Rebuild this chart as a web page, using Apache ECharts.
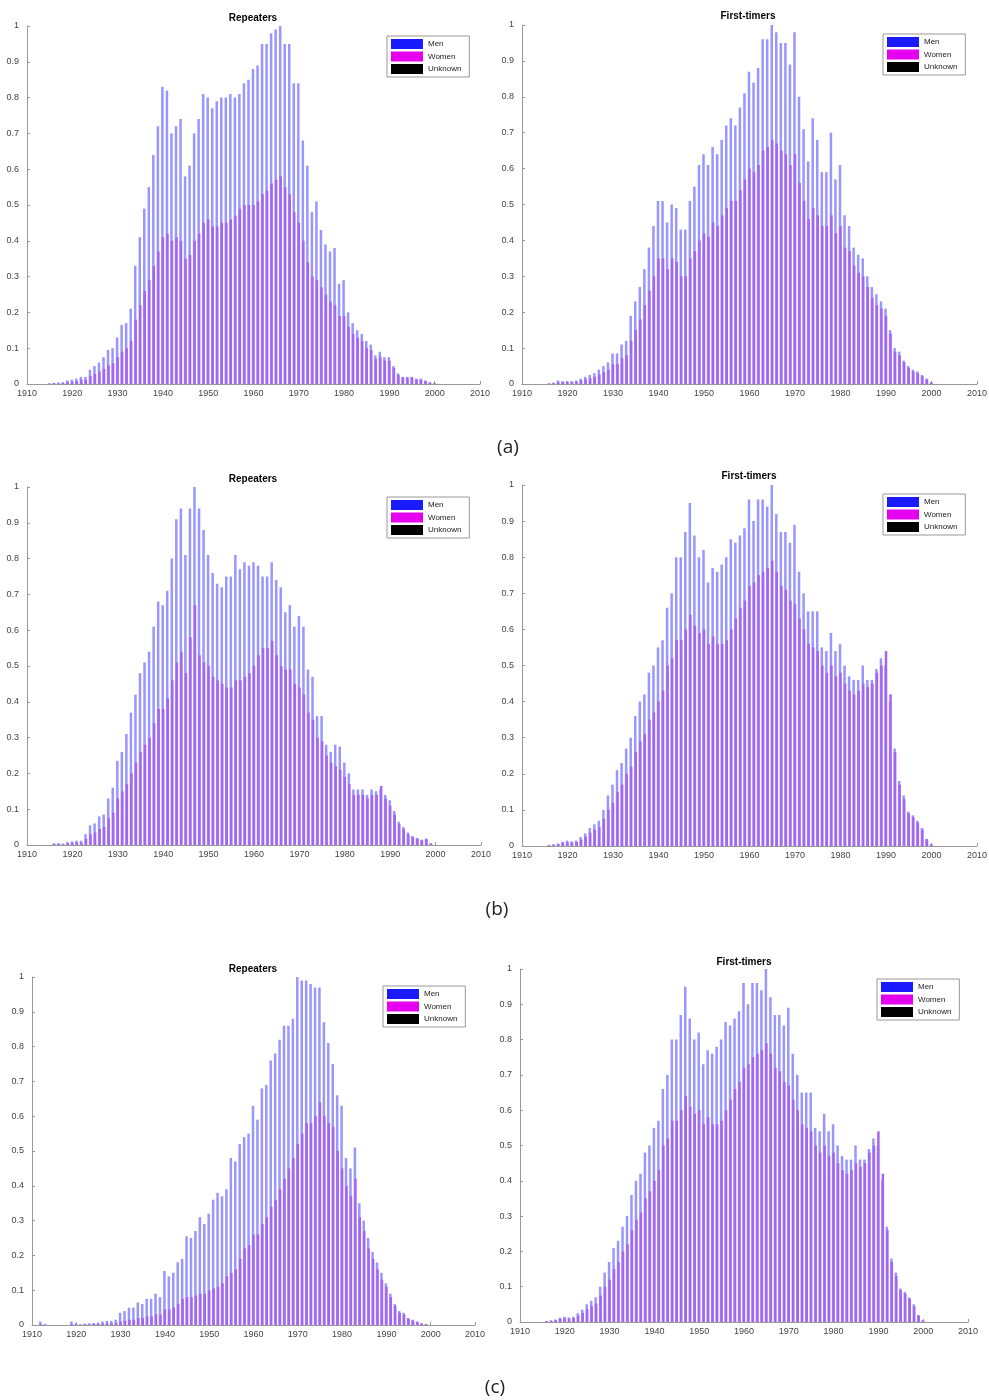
<!DOCTYPE html>
<html><head><meta charset="utf-8">
<script src="https://cdn.jsdelivr.net/npm/echarts@6/dist/echarts.min.js"></script>
<style>html,body{margin:0;padding:0;background:#fff}#c{width:989px;height:1400px}</style>
</head><body><div id="c"></div>
<script>
// Birth years 1910..2000 (one bar group per year)
const years = [];
for (let y = 1910; y <= 2000; y++) years.push(y);
const xTicks = [1910, 1920, 1930, 1940, 1950, 1960, 1970, 1980, 1990, 2000, 2010];
const yTicks = [0, 0.1, 0.2, 0.3, 0.4, 0.5, 0.6, 0.7, 0.8, 0.9, 1];
const legendNames = ['Men', 'Women', 'Unknown'];
const captions = ['(a)', '(b)', '(c)'];

// (a) Repeaters
const menRepA = [0,0,0,0,0,0.002,0.003,0.004,0.005,0.01,
 0.012,0.015,0.02,0.02,0.04,0.05,0.06,0.075,0.095,0.10,
 0.13,0.165,0.17,0.21,0.33,0.41,0.49,0.55,0.64,0.72,
 0.83,0.82,0.70,0.72,0.74,0.58,0.61,0.70,0.74,0.81,
 0.80,0.77,0.79,0.80,0.80,0.81,0.80,0.81,0.84,0.85,
 0.88,0.89,0.95,0.95,0.98,0.99,1.0,0.95,0.95,0.84,
 0.84,0.68,0.61,0.48,0.51,0.43,0.39,0.37,0.38,0.28,
 0.29,0.20,0.17,0.15,0.14,0.12,0.11,0.08,0.09,0.075,
 0.075,0.05,0.03,0.02,0.02,0.02,0.015,0.015,0.01,0.005,0.002];
const womenRepA = [0,0,0,0,0,0.001,0.002,0.002,0.003,0.005,
 0.006,0.008,0.012,0.012,0.022,0.028,0.035,0.042,0.052,0.058,
 0.075,0.09,0.10,0.12,0.18,0.22,0.26,0.29,0.33,0.37,
 0.41,0.42,0.40,0.41,0.40,0.35,0.36,0.40,0.42,0.45,
 0.46,0.44,0.44,0.45,0.45,0.46,0.47,0.49,0.50,0.50,
 0.50,0.51,0.53,0.54,0.56,0.57,0.58,0.55,0.53,0.48,
 0.45,0.40,0.34,0.30,0.29,0.27,0.25,0.23,0.22,0.19,
 0.19,0.16,0.14,0.13,0.12,0.10,0.095,0.07,0.075,0.065,
 0.065,0.045,0.025,0.018,0.018,0.018,0.013,0.012,0.008,0.004,0.002];
// (a) First-timers
const menFirstA = [0,0,0,0,0,0,0.002,0.004,0.01,0.008,
 0.008,0.008,0.01,0.015,0.02,0.025,0.03,0.04,0.05,0.06,
 0.085,0.085,0.11,0.12,0.19,0.23,0.27,0.32,0.38,0.44,
 0.51,0.51,0.45,0.50,0.49,0.43,0.43,0.51,0.55,0.61,
 0.64,0.61,0.66,0.64,0.68,0.72,0.74,0.72,0.77,0.81,
 0.87,0.84,0.88,0.96,0.96,1.0,0.98,0.95,0.95,0.89,
 0.98,0.80,0.71,0.62,0.74,0.68,0.59,0.59,0.70,0.57,
 0.61,0.47,0.44,0.38,0.36,0.35,0.30,0.27,0.25,0.23,
 0.21,0.15,0.10,0.09,0.065,0.05,0.04,0.035,0.025,0.015,0.005];
const womenFirstA = [0,0,0,0,0,0,0.001,0.002,0.005,0.005,
 0.005,0.005,0.006,0.01,0.013,0.016,0.02,0.026,0.033,0.04,
 0.055,0.056,0.072,0.08,0.12,0.15,0.18,0.22,0.26,0.30,
 0.35,0.35,0.32,0.35,0.34,0.30,0.30,0.35,0.37,0.40,
 0.42,0.41,0.45,0.44,0.47,0.49,0.51,0.51,0.54,0.57,
 0.60,0.59,0.61,0.65,0.66,0.68,0.67,0.65,0.64,0.61,
 0.64,0.56,0.51,0.46,0.49,0.47,0.44,0.44,0.47,0.42,
 0.44,0.38,0.37,0.33,0.31,0.30,0.27,0.24,0.22,0.21,
 0.19,0.14,0.09,0.08,0.06,0.045,0.035,0.03,0.022,0.013,0.004];
// (b) Repeaters
const menRepB = [0,0,0,0,0,0,0.005,0.005,0.004,0.008,
 0.01,0.012,0.012,0.03,0.055,0.06,0.08,0.085,0.13,0.16,
 0.235,0.26,0.31,0.37,0.42,0.48,0.51,0.54,0.61,0.68,
 0.67,0.71,0.80,0.91,0.94,0.81,0.94,1.0,0.94,0.88,
 0.81,0.76,0.73,0.72,0.75,0.75,0.81,0.77,0.79,0.78,
 0.79,0.78,0.75,0.75,0.79,0.74,0.72,0.65,0.67,0.61,
 0.64,0.61,0.49,0.47,0.36,0.36,0.28,0.26,0.28,0.275,
 0.23,0.20,0.155,0.155,0.155,0.14,0.155,0.15,0.155,0.14,
 0.125,0.095,0.065,0.05,0.035,0.025,0.02,0.015,0.018,0.005,0];
const womenRepB = [0,0,0,0,0,0,0.003,0.003,0.002,0.005,
 0.006,0.007,0.007,0.017,0.03,0.035,0.045,0.05,0.075,0.09,
 0.13,0.15,0.17,0.20,0.23,0.26,0.28,0.30,0.34,0.38,
 0.38,0.41,0.46,0.51,0.54,0.48,0.58,0.67,0.53,0.51,
 0.50,0.47,0.46,0.45,0.44,0.44,0.46,0.46,0.47,0.48,
 0.50,0.53,0.55,0.55,0.57,0.53,0.50,0.49,0.49,0.45,
 0.44,0.42,0.37,0.35,0.30,0.29,0.25,0.23,0.22,0.21,
 0.19,0.17,0.14,0.14,0.14,0.13,0.14,0.14,0.165,0.13,
 0.11,0.085,0.058,0.045,0.03,0.022,0.018,0.013,0.016,0.004,0];
// (b) First-timers
const menFirstB = [0,0,0,0,0,0,0.003,0.005,0.007,0.012,
 0.015,0.013,0.015,0.025,0.035,0.05,0.06,0.07,0.10,0.14,
 0.17,0.21,0.23,0.27,0.30,0.36,0.40,0.42,0.48,0.50,
 0.55,0.57,0.66,0.70,0.80,0.80,0.87,0.95,0.86,0.80,
 0.82,0.73,0.77,0.76,0.78,0.80,0.85,0.84,0.86,0.88,
 0.96,0.90,0.96,0.96,0.94,1.0,0.92,0.87,0.87,0.84,
 0.89,0.76,0.70,0.65,0.65,0.65,0.55,0.54,0.59,0.54,
 0.56,0.50,0.47,0.46,0.46,0.50,0.46,0.46,0.49,0.52,
 0.50,0.40,0.27,0.18,0.14,0.095,0.085,0.07,0.05,0.02,0.005];
const womenFirstB = [0,0,0,0,0,0,0.002,0.003,0.005,0.009,
 0.011,0.01,0.011,0.018,0.026,0.037,0.045,0.052,0.075,0.10,
 0.12,0.15,0.17,0.20,0.22,0.26,0.29,0.31,0.35,0.37,
 0.40,0.43,0.50,0.52,0.57,0.57,0.60,0.64,0.61,0.59,
 0.60,0.56,0.58,0.56,0.56,0.57,0.60,0.63,0.66,0.68,
 0.72,0.73,0.75,0.76,0.77,0.79,0.76,0.72,0.71,0.68,
 0.67,0.63,0.60,0.56,0.55,0.54,0.50,0.48,0.50,0.47,
 0.48,0.45,0.43,0.42,0.43,0.45,0.44,0.45,0.48,0.50,
 0.54,0.42,0.26,0.17,0.13,0.09,0.08,0.065,0.045,0.018,0.004];
// (c) Repeaters
const menRepC = [0,0,0.01,0.003,0,0,0,0,0,0.01,
 0.005,0.002,0.004,0.005,0.006,0.007,0.01,0.012,0.012,0.015,
 0.035,0.04,0.05,0.05,0.065,0.06,0.075,0.075,0.09,0.08,
 0.155,0.14,0.15,0.18,0.19,0.255,0.25,0.27,0.31,0.29,
 0.32,0.36,0.38,0.37,0.39,0.48,0.47,0.52,0.54,0.55,
 0.63,0.59,0.68,0.69,0.76,0.78,0.82,0.86,0.86,0.88,
 1.0,0.99,0.99,0.98,0.97,0.97,0.87,0.81,0.75,0.66,
 0.63,0.48,0.45,0.51,0.35,0.30,0.25,0.21,0.18,0.15,
 0.12,0.09,0.06,0.04,0.035,0.02,0.015,0.01,0.005,0.003,0];
const womenRepC = [0,0,0.002,0.001,0,0,0,0,0,0.003,
 0.002,0.001,0.002,0.002,0.003,0.003,0.004,0.005,0.005,0.006,
 0.01,0.012,0.015,0.015,0.02,0.02,0.025,0.025,0.03,0.03,
 0.045,0.045,0.05,0.06,0.075,0.08,0.08,0.085,0.09,0.09,
 0.10,0.105,0.11,0.12,0.14,0.15,0.16,0.19,0.22,0.23,
 0.26,0.26,0.29,0.31,0.34,0.36,0.39,0.42,0.45,0.48,
 0.52,0.55,0.58,0.58,0.60,0.64,0.60,0.58,0.57,0.50,
 0.45,0.40,0.37,0.42,0.31,0.27,0.22,0.19,0.16,0.13,
 0.11,0.08,0.055,0.035,0.03,0.018,0.013,0.009,0.004,0.002,0];
// (c) First-timers (same distribution as (b) First-timers in the figure)
const menFirstC = menFirstB.slice();
const womenFirstC = womenFirstB.slice();
// Unknown gender: no visible bars in any panel
const unknownAll = [0,0,0,0,0,0,0,0,0,0, 0,0,0,0,0,0,0,0,0,0, 0,0,0,0,0,0,0,0,0,0,
 0,0,0,0,0,0,0,0,0,0, 0,0,0,0,0,0,0,0,0,0, 0,0,0,0,0,0,0,0,0,0,
 0,0,0,0,0,0,0,0,0,0, 0,0,0,0,0,0,0,0,0,0, 0,0,0,0,0,0,0,0,0,0,0];

const panels = [
  {title:'Repeaters', men:menRepA, women:womenRepA, grid:{left:27, top:26, width:453, height:358}, tp:[253,18], lg:[387,36]},
  {title:'First-timers', men:menFirstA, women:womenFirstA, grid:{left:522, top:25, width:455, height:359}, tp:[748,16], lg:[883,34]},
  {title:'Repeaters', men:menRepB, women:womenRepB, grid:{left:27, top:487, width:454, height:358}, tp:[253,479], lg:[387,497]},
  {title:'First-timers', men:menFirstB, women:womenFirstB, grid:{left:522, top:485, width:455, height:361}, tp:[749,476], lg:[883,494]},
  {title:'Repeaters', men:menRepC, women:womenRepC, grid:{left:32, top:977, width:443, height:348}, tp:[253,969], lg:[383,986]},
  {title:'First-timers', men:menFirstC, women:womenFirstC, grid:{left:520, top:969, width:448, height:353}, tp:[744,962], lg:[877,979]}
];
const captionPos = [[508,448],[497,910],[495,1388]];

const FONT = '"Liberation Sans", Arial, sans-serif';
// bar tints as they appear in the (scanned) figure; legend swatches use the pure colours
const barColors = {Men:'#9a96ff', Women:'#a466f2', Unknown:'#000000'};
const legendColors = {Men:'#1a1aff', Women:'#e600f0', Unknown:'#000000'};

const grids = [], xAxes = [], yAxes = [], series = [], legends = [], graphics = [];
panels.forEach((p, i) => {
  grids.push(Object.assign({outerBoundsMode:'none', containLabel:false}, p.grid));
  xAxes.push({
    type:'value', gridIndex:i, min:xTicks[0], max:xTicks[xTicks.length-1], interval:10,
    axisLine:{show:true, lineStyle:{color:'#999', width:1}},
    axisTick:{show:true, inside:true, length:3, lineStyle:{color:'#999'}},
    axisLabel:{show:true, fontSize:9, color:'#444', fontFamily:FONT, margin:5, formatter:v => String(v)},
    splitLine:{show:false}
  });
  yAxes.push({
    type:'value', gridIndex:i, min:yTicks[0], max:yTicks[yTicks.length-1], interval:0.1,
    axisLine:{show:true, lineStyle:{color:'#999', width:1}},
    axisTick:{show:true, inside:true, length:3, lineStyle:{color:'#999'}},
    axisLabel:{show:true, fontSize:9, color:'#444', fontFamily:FONT, margin:8,
      formatter:v => (v === 0 ? '0' : (Math.abs(v-1) < 1e-9 ? '1' : v.toFixed(1)))},
    splitLine:{show:false}
  });
  const sets = [['Men', p.men], ['Women', p.women], ['Unknown', unknownAll]];
  sets.forEach(([name, arr]) => {
    series.push({
      name, type:'bar', xAxisIndex:i, yAxisIndex:i,
      data: years.map((y, k) => [y, arr[k]]),
      barWidth:2.5, barGap:'-80%',
      itemStyle:{color:barColors[name]},
      emphasis:{disabled:true}, animation:false
    });
  });
  legends.push({
    left:p.lg[0], top:p.lg[1], orient:'vertical',
    data:legendNames.map(n => ({name:n, itemStyle:{color:legendColors[n]}})), icon:'rect',
    itemWidth:32, itemHeight:10, itemGap:2.5, padding:[3,8,3,4],
    borderColor:'#999', borderWidth:1, backgroundColor:'#fff', borderRadius:0,
    selectedMode:false,
    textStyle:{fontSize:8, color:'#222', fontFamily:FONT}
  });
  graphics.push({type:'text', x:p.tp[0], y:p.tp[1], style:{text:p.title, align:'center', verticalAlign:'middle', fill:'#000', font:'bold 10px ' + FONT}});
});
captions.forEach((c, i) => {
  graphics.push({type:'text', x:captionPos[i][0], y:captionPos[i][1], style:{text:c, align:'center', verticalAlign:'middle', fill:'#222', font:'19px "Open Sans", sans-serif'}});
});

const chart = echarts.init(document.getElementById('c'), null, {renderer:'canvas'});
chart.setOption({
  backgroundColor:'#fff', animation:false,
  grid:grids, xAxis:xAxes, yAxis:yAxes, series, legend:legends, graphic:graphics, tooltip:{show:false}
});
</script></body></html>
